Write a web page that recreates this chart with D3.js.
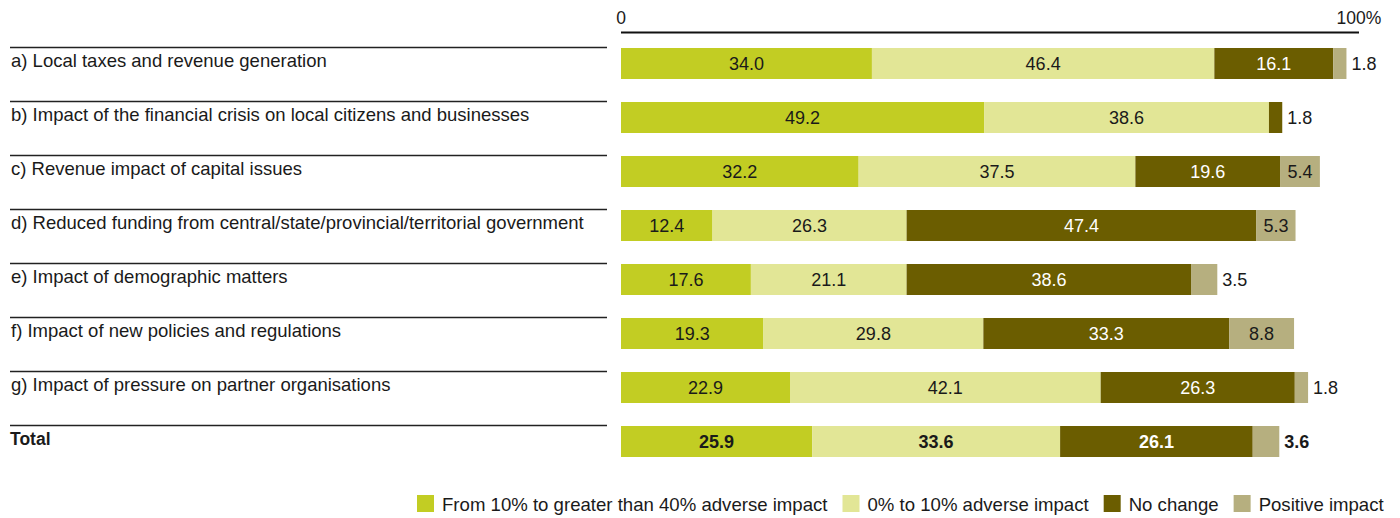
<!DOCTYPE html>
<html>
<head>
<meta charset="utf-8">
<script src="https://cdn.jsdelivr.net/npm/d3@7"></script>
<style>
  html, body { margin: 0; padding: 0; background: #fff; }
  svg { display: block; font-family: "Liberation Sans", Arial, Helvetica, sans-serif; }
</style>
</head>
<body>
<svg id="chart" width="1400" height="518"></svg>
<script>
// Survey responses by issue, percent of respondents
const categories = [
  "a) Local taxes and revenue generation",
  "b) Impact of the financial crisis on local citizens and businesses",
  "c) Revenue impact of capital issues",
  "d) Reduced funding from central/state/provincial/territorial government",
  "e) Impact of demographic matters",
  "f) Impact of new policies and regulations",
  "g) Impact of pressure on partner organisations",
  "Total"
];
const seriesNames = [
  "From 10% to greater than 40% adverse impact",
  "0% to 10% adverse impact",
  "No change",
  "Positive impact"
];
const severeAdverse = [34.0, 49.2, 32.2, 12.4, 17.6, 19.3, 22.9, 25.9];
const mildAdverse   = [46.4, 38.6, 37.5, 26.3, 21.1, 29.8, 42.1, 33.6];
const noChange      = [16.1,  1.8, 19.6, 47.4, 38.6, 33.3, 26.3, 26.1];
const positive      = [ 1.8,  0.0,  5.4,  5.3,  3.5,  8.8,  1.8,  3.6];
const axisTicks = [0, 100];
const axisTickLabels = ["0", "100%"];

const colors = ["#c2cd23", "#e2e696", "#6b5d00", "#b6af7f"];
const textColors = ["#1a1a1a", "#1a1a1a", "#ffffff", "#1a1a1a"];

const rows = categories.map((c, i) => ({
  category: c,
  severe: severeAdverse[i],
  mild: mildAdverse[i],
  none: noChange[i],
  positive: positive[i],
  isTotal: c === "Total"
}));
const keys = ["severe", "mild", "none", "positive"];
const stacked = d3.stack().keys(keys)(rows);

const svg = d3.select("#chart");

const x = d3.scaleLinear().domain([0, 100]).range([621, 1359]);
// 54px per row, 31px bars
const y = d3.scaleBand().domain(categories).range([48, 457])
  .paddingInner(23 / 54).paddingOuter(0);
const barH = y.bandwidth();

// Top axis: a single rule with "0" and "100%"
svg.append("line")
  .attr("x1", x(0)).attr("x2", x(100))
  .attr("y1", 32.5).attr("y2", 32.5)
  .attr("stroke", "#111").attr("stroke-width", 2);
svg.append("g").selectAll("text")
  .data(axisTicks)
  .join("text")
  .attr("x", d => x(d))
  .attr("y", 24)
  .attr("text-anchor", "middle")
  .attr("font-size", 17.5)
  .attr("fill", "#1a1a1a")
  .text((d, i) => axisTickLabels[i]);

// Category labels with a rule above each
const labels = svg.append("g");
labels.selectAll("line")
  .data(categories)
  .join("line")
  .attr("x1", 10).attr("x2", 607)
  .attr("y1", d => y(d) - 0.5).attr("y2", d => y(d) - 0.5)
  .attr("stroke", "#222").attr("stroke-width", 1.5);
labels.selectAll("text")
  .data(rows)
  .join("text")
  .attr("x", d => d.isTotal ? 10 : 11)
  .attr("y", d => y(d.category) + 19)
  .attr("font-size", d => d.isTotal ? 17.5 : 18.5)
  .attr("font-weight", d => d.isTotal ? "bold" : "normal")
  .attr("fill", "#1a1a1a")
  .text(d => d.category);

// Stacked bars
const layers = svg.append("g").selectAll("g")
  .data(stacked)
  .join("g")
  .attr("fill", (d, i) => colors[i]);
layers.selectAll("rect")
  .data(d => d.filter(s => s[1] - s[0] > 0))
  .join("rect")
  .attr("x", s => x(s[0]))
  .attr("width", s => x(s[1]) - x(s[0]))
  .attr("y", s => y(s.data.category))
  .attr("height", barH);

// Value labels: inside the segment when it is wide enough, otherwise after the bar end
const valueLabels = svg.append("g").attr("font-size", 18);
stacked.forEach((layer, li) => {
  layer.forEach(s => {
    const v = s[1] - s[0];
    if (v <= 0) return;
    const inside = v >= 5;
    const row = s.data;
    const barEnd = x(d3.sum(keys, k => row[k]));
    valueLabels.append("text")
      .attr("x", inside ? (x(s[0]) + x(s[1])) / 2 : barEnd + 5)
      .attr("y", y(row.category) + barH / 2 + 6.5)
      .attr("text-anchor", inside ? "middle" : "start")
      .attr("font-weight", row.isTotal ? "bold" : "normal")
      .attr("fill", inside ? textColors[li] : "#1a1a1a")
      .text(v.toFixed(1));
  });
});

// Legend
const legend = svg.append("g").attr("font-size", 18.6);
let lx = 417;
seriesNames.forEach((name, i) => {
  legend.append("rect")
    .attr("x", lx).attr("y", 495)
    .attr("width", 17).attr("height", 17)
    .attr("fill", colors[i]);
  const t = legend.append("text")
    .attr("x", lx + 25).attr("y", 511)
    .attr("fill", "#1a1a1a")
    .text(name);
  lx += 25 + t.node().getComputedTextLength() + 15;
});
</script>
</body>
</html>
